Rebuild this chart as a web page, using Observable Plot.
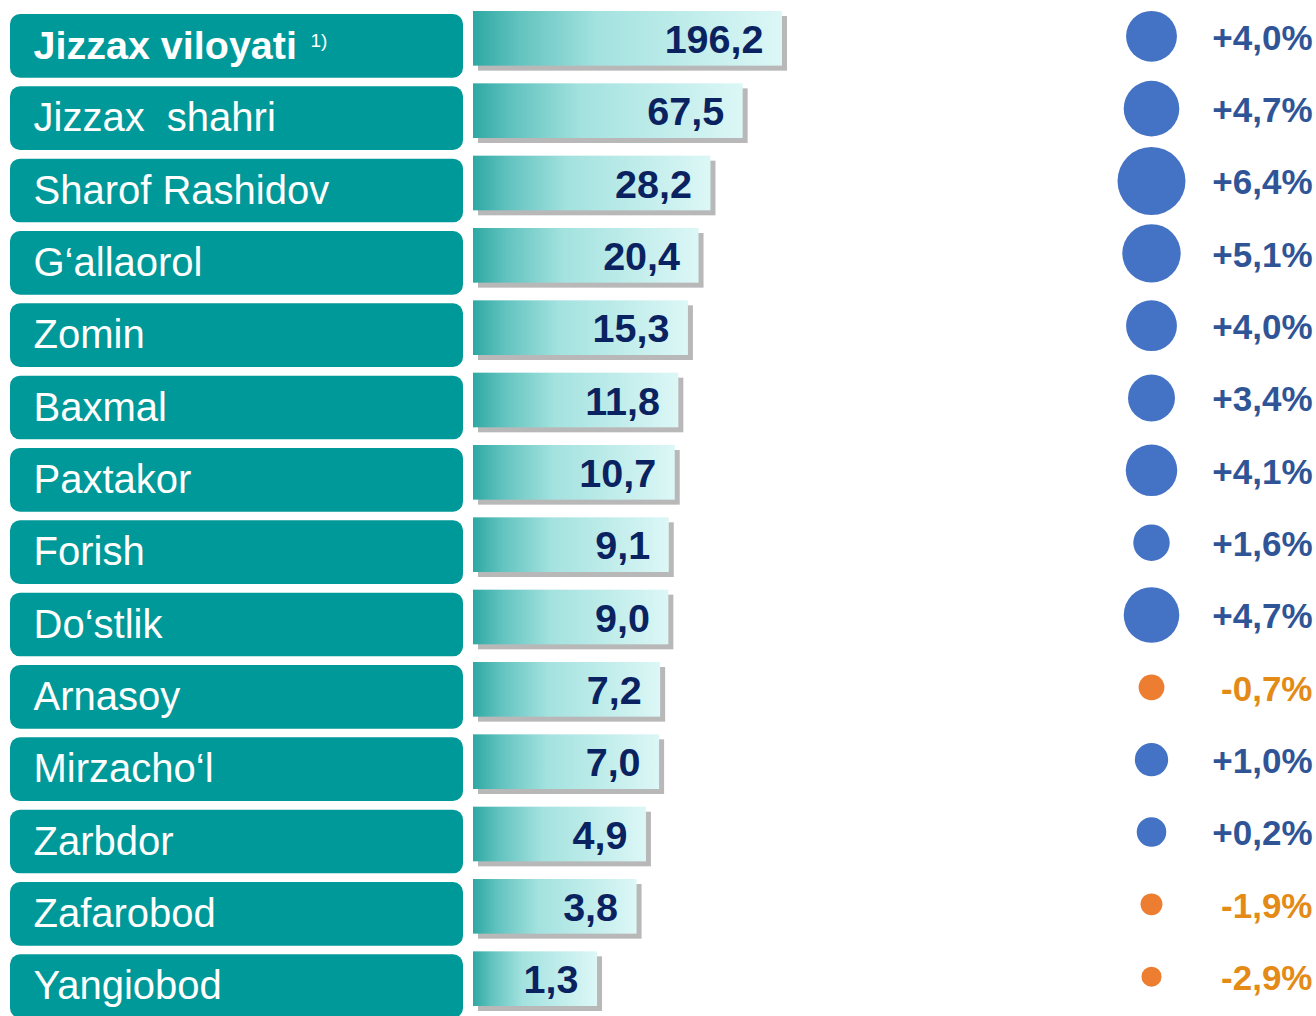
<!DOCTYPE html>
<html>
<head>
<meta charset="utf-8">
<script src="https://cdn.jsdelivr.net/npm/d3@7"></script>
<script src="https://cdn.jsdelivr.net/npm/@observablehq/plot@0.6"></script>
<style>
  html, body { margin: 0; padding: 0; background: #fff; overflow: hidden; }
  svg text { white-space: pre; }
</style>
</head>
<body>
<div id="chart"></div>
<script>
const names = ["Jizzax viloyati", "Jizzax  shahri", "Sharof Rashidov", "G‘allaorol", "Zomin", "Baxmal", "Paxtakor", "Forish", "Do‘stlik", "Arnasoy", "Mirzacho‘l", "Zarbdor", "Zafarobod", "Yangiobod"];
const values = [196.2, 67.5, 28.2, 20.4, 15.3, 11.8, 10.7, 9.1, 9.0, 7.2, 7.0, 4.9, 3.8, 1.3];
const changes = [4.0, 4.7, 6.4, 5.1, 4.0, 3.4, 4.1, 1.6, 4.7, -0.7, 1.0, 0.2, -1.9, -2.9];
const footnotes = [{name: "Jizzax viloyati", note: "1)"}];

const rows = names.map((name, i) => ({name, value: values[i], pct: changes[i]}));
const fmtVal = v => d3.format(".1f")(v).replace(".", ",");
const fmtPct = v => (v >= 0 ? "+" : "-") + d3.format(".1f")(Math.abs(v)).replace(".", ",") + "%";
const blue = "#4472c4", orange = "#ed7d31";
const blueText = "#2f5597", orangeText = "#e38a17";
const font = "'Liberation Sans', Arial, sans-serif";

const plot = Plot.plot({
  width: 1316,
  height: 1016,
  margin: 0,
  style: {fontFamily: font, background: "#fff"},
  x: {type: "log", domain: [0.045, 196.2], range: [473, 782], axis: null},
  y: {domain: names, range: [14, 1018], paddingInner: 0.12, paddingOuter: 0, round: false, axis: null},
  r: {type: "pow", exponent: 1.5, domain: [0, 9.4], range: [10, 34]},
  color: {type: "identity"},
  marks: [
    // label boxes
    Plot.cell(rows, {y: "name", fill: "#009999", insetLeft: 10, insetRight: 853, rx: 10}),
    Plot.text(rows.slice(0, 1), {y: "name", text: "name", frameAnchor: "left", dx: 33, textAnchor: "start", fill: "white", fontSize: 39.5, fontWeight: "bold"}),
    Plot.text(rows.slice(1), {y: "name", text: "name", frameAnchor: "left", dx: 33, textAnchor: "start", fill: "white", fontSize: 40}),
    Plot.text(footnotes, {y: "name", text: "note", frameAnchor: "left", dx: 310, dy: -5, textAnchor: "start", fill: "white", fontSize: 19}),
    // bar shadow
    Plot.barX(rows, {y: "name", x1: 0.045, x2: "value", fill: "#9a9a9a", fillOpacity: 0.7, dx: 5, dy: 5, insetTop: -3, insetBottom: 12, ariaLabel: "shadow"}),
    // bars
    Plot.barX(rows, {y: "name", x1: 0.045, x2: "value", fill: "url(#barGrad)", insetTop: -3, insetBottom: 12}),
    Plot.text(rows, {y: "name", x: "value", text: d => fmtVal(d.value), textAnchor: "end", dx: -19, dy: -6, fill: "#0b2260", fontSize: 39.5, fontWeight: "bold"}),
    // circles
    Plot.dot(rows, {y: "name", r: d => d.pct + 3, fill: d => d.pct < 0 ? orange : blue, frameAnchor: "left", dx: 1151, dy: -10}),
    Plot.text(rows, {y: "name", text: d => fmtPct(d.pct), fill: d => d.pct < 0 ? orangeText : blueText, frameAnchor: "left", dx: 1312, dy: -8, textAnchor: "end", fontSize: 35, fontWeight: "bold"})
  ]
});

const ns = "http://www.w3.org/2000/svg";
const defs = document.createElementNS(ns, "defs");
defs.innerHTML = `
  <linearGradient id="barGrad" x1="0" y1="0" x2="1" y2="0">
    <stop offset="0" stop-color="#2ea8a3"/>
    <stop offset="0.15" stop-color="#62c3bf"/>
    <stop offset="0.4" stop-color="#a3e2df"/>
    <stop offset="1" stop-color="#dcf7f6"/>
  </linearGradient>
  <filter id="blur" x="-10%" y="-20%" width="120%" height="150%">
    <feGaussianBlur stdDeviation="2"/>
  </filter>`;
plot.insertBefore(defs, plot.firstChild);
const sh = plot.querySelector('g[aria-label="shadow"]');
if (sh) sh.setAttribute("filter", "url(#blur)");
document.getElementById("chart").appendChild(plot);
</script>
</body>
</html>
